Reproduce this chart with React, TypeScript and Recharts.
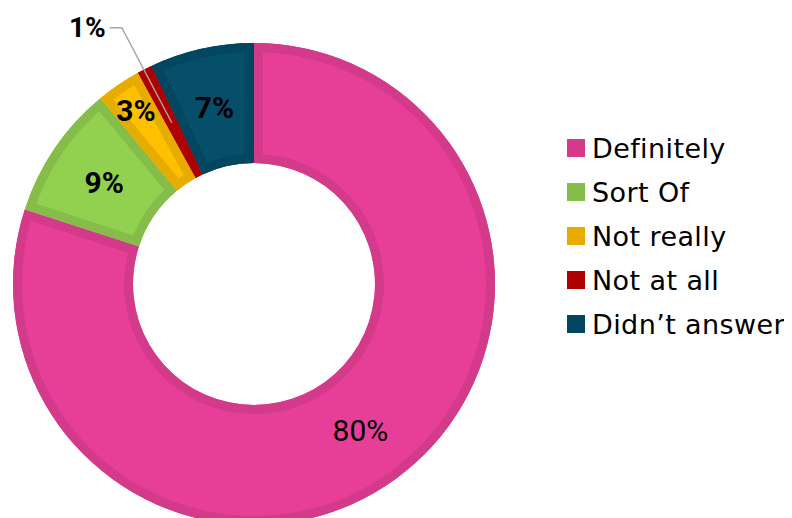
import { PieChart, Pie, Cell, Legend, Sector } from "recharts";

const categories = ["Definitely", "Sort Of", "Not really", "Not at all", "Didn’t answer"];
const values = [80, 9, 3, 1, 7];
const labels = ["80%", "9%", "3%", "1%", "7%"];

const fills = ["#E73E97", "#92D050", "#FFC000", "#C00000", "#054F6B"];
const borders = ["#D33A8A", "#86BC4A", "#E6AD00", "#AE0000", "#03465F"];

const data = categories.map((name, i) => ({ name, value: values[i] }));

const RAD = Math.PI / 180;

function SliceLabel(props: any) {
  const { cx, cy, innerRadius, outerRadius, startAngle, endAngle, midAngle, middleRadius, index } = props;
  const id = `slice-clip-${index}`;
  const pt = (r: number, a: number) => ({ x: cx + r * Math.cos(-a * RAD), y: cy + r * Math.sin(-a * RAD) });

  let text = null;
  if (index === 3) {
    // small slice: label outside with leader line
    const end = pt(middleRadius, midAngle);
    const elbow = { x: end.x - 50, y: end.y - 95 };
    text = (
      <g>
        <polyline
          points={`${end.x},${end.y} ${elbow.x},${elbow.y} ${elbow.x - 12},${elbow.y}`}
          fill="none"
          stroke="#A6A6A6"
          strokeWidth={1.5}
        />
        <text x={elbow.x - 16} y={elbow.y} textAnchor="end" dominantBaseline="central"
          fontFamily="Roboto" fontWeight={700} fontSize={28} fill="#000">
          {labels[index]}
        </text>
      </g>
    );
  } else {
    const r = index === 2 ? 210 : middleRadius;
    const p = pt(r, midAngle);
    text = (
      <text x={p.x} y={p.y} textAnchor="middle" dominantBaseline="central"
        fontFamily="Roboto" fontWeight={index === 0 ? 400 : 700} fontSize={30} fill="#000">
        {labels[index]}
      </text>
    );
  }

  return (
    <g>
      <defs>
        <clipPath id={id}>
          <Sector cx={cx} cy={cy} innerRadius={innerRadius} outerRadius={outerRadius} startAngle={startAngle} endAngle={endAngle} />
        </clipPath>
      </defs>
      <Sector
        cx={cx}
        cy={cy}
        innerRadius={innerRadius}
        outerRadius={outerRadius}
        startAngle={startAngle}
        endAngle={endAngle}
        fill="none"
        stroke={borders[index]}
        strokeWidth={18}
        clipPath={`url(#${id})`}
      />
      {text}
    </g>
  );
}

function LegendBox() {
  return (
    <div style={{ fontFamily: "DejaVu Sans", fontSize: 27, letterSpacing: 0.4, color: "#000" }}>
      {categories.map((name, i) => (
        <div key={name} style={{ display: "flex", alignItems: "center", height: 44 }}>
          <span style={{ width: 18, height: 18, background: borders[i], marginRight: 7, display: "inline-block", flexShrink: 0 }} />
          <span style={{ whiteSpace: "nowrap" }}>{name}</span>
        </div>
      ))}
    </div>
  );
}

export default function App() {
  return (
    <PieChart width={784} height={510} margin={{ top: 0, right: 0, bottom: 0, left: 0 }}>
      <Pie
        data={data}
        dataKey="value"
        nameKey="name"
        cx={246}
        cy={276}
        innerRadius={121}
        outerRadius={241}
        startAngle={90}
        endAngle={-270}
        stroke="none"
        label={SliceLabel}
        labelLine={false}
        isAnimationActive={false}
      >
        {data.map((d, i) => (
          <Cell key={d.name} fill={fills[i]} />
        ))}
      </Pie>
      <Legend
        content={LegendBox}
        wrapperStyle={{ position: "absolute", left: 559, top: 118, width: 225, bottom: "auto", right: "auto" }}
      />
    </PieChart>
  );
}
